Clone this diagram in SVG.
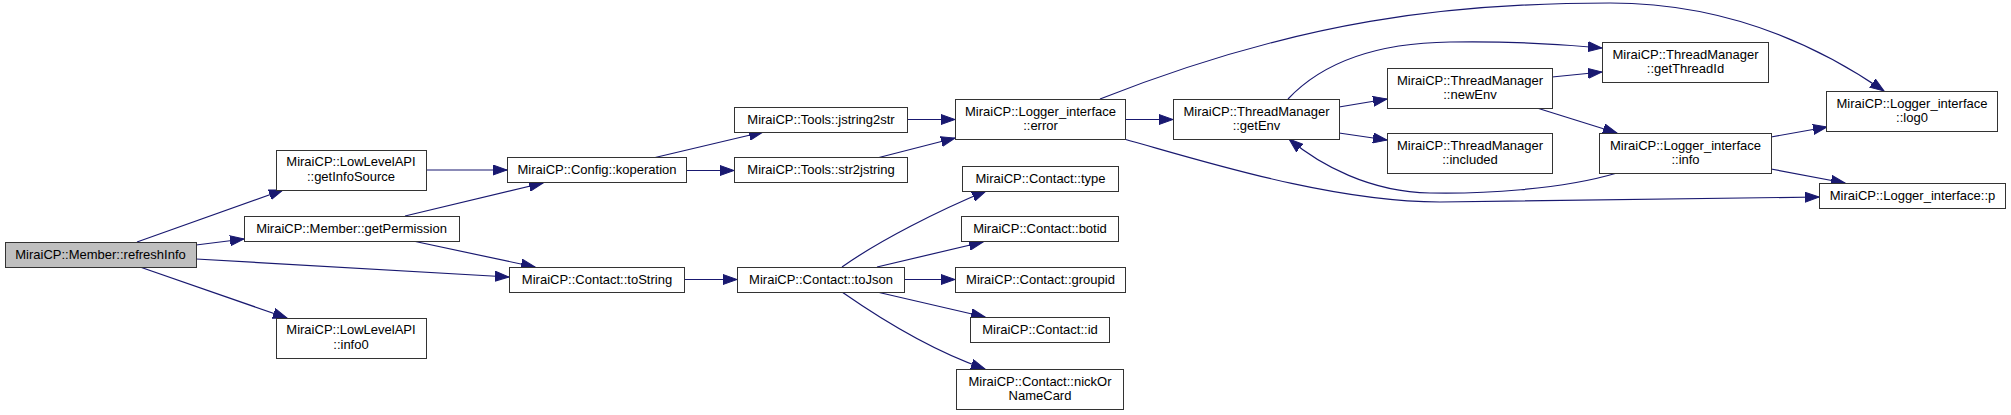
<svg xmlns="http://www.w3.org/2000/svg" width="2011" height="415" viewBox="0 0 2011 415">
<style>
.n rect{fill:#ffffff;stroke:#333333;stroke-width:1}
.n.cur rect{fill:#bfbfbf}
.n text{font-family:"Liberation Sans",Arial,sans-serif;font-size:13px;fill:#000000;text-anchor:middle}
.e path{fill:none;stroke:#191970;stroke-width:1.2;marker-end:url(#ah)}
</style>
<defs>
<marker id="ah" markerUnits="userSpaceOnUse" markerWidth="15" markerHeight="11" refX="14" refY="5.5" orient="auto">
<path d="M0,0.5 L14,5.5 L0,10.5 Z" fill="#191970" stroke="#191970" stroke-width="1"/>
</marker>
</defs>
<rect x="0" y="0" width="2011" height="415" fill="#ffffff"/>
<g id="edges" class="e">
<path d="M137,242 L283,190"/>
<path d="M196,245 L244,239"/>
<path d="M196,259 L509,277"/>
<path d="M140,267 L287,318"/>
<path d="M426,170 L507,170"/>
<path d="M405,216 L543,183"/>
<path d="M413,241 L535,267"/>
<path d="M653,158 L763,132"/>
<path d="M687,170.5 L734,170.5"/>
<path d="M907,119.5 L955,119.5"/>
<path d="M877,158 L955,138"/>
<path d="M684,279.5 L737,279.5"/>
<path d="M842,267 C880,240 940,210 986,191"/>
<path d="M877,267 L983,242"/>
<path d="M904,279.5 L955,279.5"/>
<path d="M877,292 L985,317"/>
<path d="M842,292 C875,315 930,350 985,369"/>
<path d="M1125,119.5 L1173,119.5"/>
<path d="M1100,99 C1300,20 1450,3 1610,3 C1720,3 1810,40 1884,91"/>
<path d="M1124,139 C1200,160 1330,202 1440,202 L1819,197"/>
<path d="M1288,99 C1320,65 1370,43 1450,42 C1510,41 1560,44 1602,48"/>
<path d="M1339,107 L1387,99"/>
<path d="M1339,133 L1387,140"/>
<path d="M1552,77 L1602,72"/>
<path d="M1537,108 L1617,133"/>
<path d="M1617,173 C1560,190 1480,194 1430,193 C1370,192 1320,165 1289,139"/>
<path d="M1771,137 L1827,127"/>
<path d="M1771,169 L1845,183"/>
</g>
<g id="n0" class="n cur"><rect x="5.5" y="242.5" width="191" height="25"/><text x="100.5" y="258.5">MiraiCP::Member::refreshInfo</text></g>
<g id="n1" class="n"><rect x="276.5" y="150.5" width="150" height="40"/><text x="351" y="166">MiraiCP::LowLevelAPI</text><text x="351" y="180.5">::getInfoSource</text></g>
<g id="n2" class="n"><rect x="244.5" y="216.5" width="215" height="25"/><text x="351.5" y="232.5">MiraiCP::Member::getPermission</text></g>
<g id="n3" class="n"><rect x="276.5" y="318.5" width="150" height="40"/><text x="351" y="334">MiraiCP::LowLevelAPI</text><text x="351" y="348.5">::info0</text></g>
<g id="n4" class="n"><rect x="507.5" y="157.5" width="179" height="25"/><text x="597" y="173.5">MiraiCP::Config::koperation</text></g>
<g id="n5" class="n"><rect x="509.5" y="267.5" width="175" height="25"/><text x="597" y="283.5">MiraiCP::Contact::toString</text></g>
<g id="n6" class="n"><rect x="734.5" y="107.5" width="173" height="25"/><text x="821" y="123.5">MiraiCP::Tools::jstring2str</text></g>
<g id="n7" class="n"><rect x="734.5" y="157.5" width="173" height="25"/><text x="821" y="173.5">MiraiCP::Tools::str2jstring</text></g>
<g id="n8" class="n"><rect x="737.5" y="267.5" width="167" height="25"/><text x="821" y="283.5">MiraiCP::Contact::toJson</text></g>
<g id="n9" class="n"><rect x="955.5" y="99.5" width="170" height="40"/><text x="1040.5" y="115.5">MiraiCP::Logger_interface</text><text x="1040.5" y="130">::error</text></g>
<g id="n10" class="n"><rect x="962.5" y="166.5" width="156" height="25"/><text x="1040.5" y="182.5">MiraiCP::Contact::type</text></g>
<g id="n11" class="n"><rect x="961.5" y="216.5" width="157" height="25"/><text x="1040" y="232.5">MiraiCP::Contact::botid</text></g>
<g id="n12" class="n"><rect x="955.5" y="267.5" width="170" height="25"/><text x="1040.5" y="283.5">MiraiCP::Contact::groupid</text></g>
<g id="n13" class="n"><rect x="970.5" y="317.5" width="139" height="25"/><text x="1040" y="333.5">MiraiCP::Contact::id</text></g>
<g id="n14" class="n"><rect x="956.5" y="369.5" width="167" height="40"/><text x="1040" y="385.5">MiraiCP::Contact::nickOr</text><text x="1040" y="400">NameCard</text></g>
<g id="n15" class="n"><rect x="1173.5" y="99.5" width="166" height="40"/><text x="1256.5" y="115.5">MiraiCP::ThreadManager</text><text x="1256.5" y="130">::getEnv</text></g>
<g id="n16" class="n"><rect x="1387.5" y="68.5" width="165" height="40"/><text x="1470" y="84.5">MiraiCP::ThreadManager</text><text x="1470" y="99">::newEnv</text></g>
<g id="n17" class="n"><rect x="1387.5" y="133.5" width="165" height="40"/><text x="1470" y="149.5">MiraiCP::ThreadManager</text><text x="1470" y="164">::included</text></g>
<g id="n18" class="n"><rect x="1602.5" y="42.5" width="166" height="40"/><text x="1685.5" y="58.5">MiraiCP::ThreadManager</text><text x="1685.5" y="73">::getThreadId</text></g>
<g id="n19" class="n"><rect x="1599.5" y="133.5" width="172" height="40"/><text x="1685.5" y="149.5">MiraiCP::Logger_interface</text><text x="1685.5" y="164">::info</text></g>
<g id="n20" class="n"><rect x="1826.5" y="91.5" width="171" height="40"/><text x="1912" y="107.5">MiraiCP::Logger_interface</text><text x="1912" y="122">::log0</text></g>
<g id="n21" class="n"><rect x="1819.5" y="183.5" width="186" height="25"/><text x="1912.5" y="199.5">MiraiCP::Logger_interface::p</text></g>
</svg>
